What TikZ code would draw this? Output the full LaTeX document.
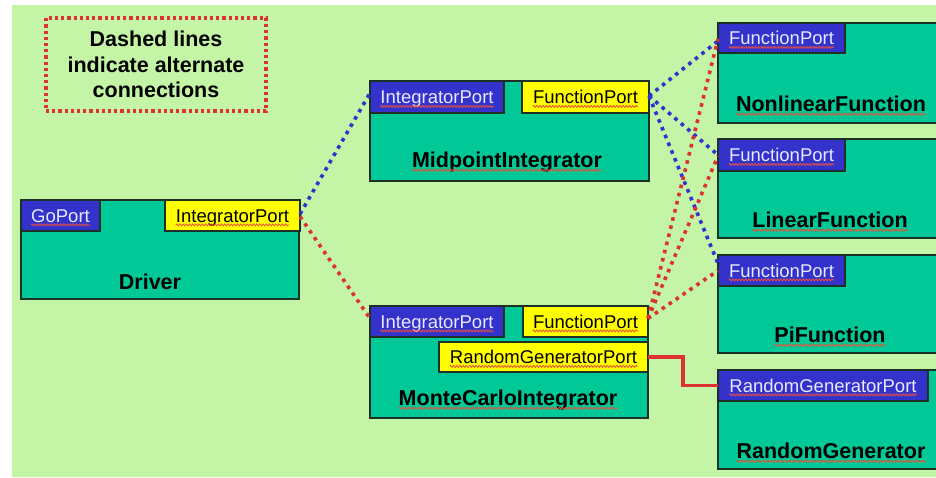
\documentclass[tikz,border=0pt]{standalone}
\usepackage{fontspec}
\setmainfont{Liberation Sans}
\usetikzlibrary{decorations.pathmorphing}

\definecolor{bgcol}{RGB}{196,245,166}
\definecolor{compcol}{RGB}{0,200,150}
\definecolor{usescol}{RGB}{51,51,204}
\definecolor{providescol}{RGB}{255,255,0}
\definecolor{edgecol}{RGB}{28,48,38}
\definecolor{linkred}{RGB}{220,50,50}
\definecolor{linkblue}{RGB}{51,51,204}
\definecolor{usestext}{RGB}{232,232,255}
\definecolor{spellred}{RGB}{235,80,60}

\tikzset{
  comp/.style={draw=edgecol, line width=1.7pt, fill=compcol, anchor=north west,
               inner sep=0pt, outer sep=0pt},
  uport/.style={comp, fill=usescol},
  pport/.style={comp, fill=providescol},
  portlabel/.style={font=\fontsize{18.5}{22}\selectfont, inner sep=0pt, anchor=base},
  ulabel/.style={portlabel, text=usestext},
  plabel/.style={portlabel, text=black},
  comptitle/.style={font=\bfseries\fontsize{21.5}{25}\selectfont, inner sep=0pt, anchor=base},
  altblue/.style={draw=linkblue, line width=3.6pt, dash pattern=on 3.6pt off 4.8pt},
  altred/.style={altblue, draw=linkred},
  fixedlink/.style={draw=linkred, line width=3.8pt},
  notebox/.style={draw=linkred, line width=3.4pt, dash pattern=on 3.2pt off 3pt},
  spellmark/.style={draw=spellred, line width=0.8pt, decorate,
                    decoration={zigzag, amplitude=1pt, segment length=3.2pt}},
}

\begin{document}
\begin{tikzpicture}[x=1pt, y=-1pt]
\useasboundingbox (0,0) rectangle (936,477);
\begin{scope}
\clip (0,0) rectangle (936,477);
\fill[bgcol] (12,5) rectangle (936,477);

% legend
\node[notebox, minimum width=220pt, minimum height=93pt, inner sep=0pt, align=center,
      font=\bfseries\fontsize{21.5}{25.5}\selectfont] (note) at (156,64.5)
      {Dashed lines\\indicate alternate\\connections};

% Driver
\node[comp, minimum width=278pt, minimum height=99pt] (driver) at (21,200) {};
\node[uport, minimum width=79pt, minimum height=31pt] (drvgo) at (21,200) {};
\node[pport, minimum width=135pt, minimum height=31pt] (drvint) at (165,200) {};

% MidpointIntegrator
\node[comp, minimum width=279pt, minimum height=100pt] (mid) at (370,81) {};
\node[uport, minimum width=134pt, minimum height=32pt] (midint) at (370,81) {};
\node[pport, minimum width=127pt, minimum height=32pt] (midfun) at (522,81) {};

% MonteCarloIntegrator
\node[comp, minimum width=278pt, minimum height=112pt] (mc) at (370,306) {};
\node[uport, minimum width=134pt, minimum height=31pt] (mcint) at (370,306) {};
\node[pport, minimum width=125pt, minimum height=31pt] (mcfun) at (523,306) {};
\node[pport, minimum width=209pt, minimum height=30pt] (mcrand) at (439,342) {};

% function and generator components
\node[comp, minimum width=227pt, minimum height=100pt] (nonlin) at (718,23) {};
\node[uport, minimum width=127pt, minimum height=30pt] (nonlinfun) at (718,23) {};
\node[comp, minimum width=227pt, minimum height=99pt] (lin) at (718,139) {};
\node[uport, minimum width=127pt, minimum height=32pt] (linfun) at (718,139) {};
\node[comp, minimum width=227pt, minimum height=98pt] (pi) at (718,255) {};
\node[uport, minimum width=127pt, minimum height=31pt] (pifun) at (718,255) {};
\node[comp, minimum width=227pt, minimum height=99pt] (rng) at (718,370) {};
\node[uport, minimum width=210pt, minimum height=31pt] (rngport) at (718,370) {};

% port labels
\node[ulabel] (l-drvgo) at ([yshift=-6.6pt]drvgo.center) {GoPort};
\node[plabel] (l-drvint) at ([yshift=-6.6pt]drvint.center) {IntegratorPort};
\node[ulabel] (l-midint) at ([yshift=-6.6pt]midint.center) {IntegratorPort};
\node[plabel] (l-midfun) at ([yshift=-6.6pt]midfun.center) {FunctionPort};
\node[ulabel] (l-mcint) at ([yshift=-6.6pt]mcint.center) {IntegratorPort};
\node[plabel] (l-mcfun) at ([yshift=-6.6pt]mcfun.center) {FunctionPort};
\node[plabel] (l-mcrand) at ([yshift=-6.6pt]mcrand.center) {RandomGeneratorPort};
\node[ulabel] (l-nonlinfun) at ([yshift=-6.6pt]nonlinfun.center) {FunctionPort};
\node[ulabel] (l-linfun) at ([yshift=-6.6pt]linfun.center) {FunctionPort};
\node[ulabel] (l-pifun) at ([yshift=-6.6pt]pifun.center) {FunctionPort};
\node[ulabel] (l-rngport) at ([yshift=-6.6pt]rngport.center) {RandomGeneratorPort};

% component names
\node[comptitle] (t-driver) at (150,289) {Driver};
\node[comptitle] (t-mid) at (507,167) {MidpointIntegrator};
\node[comptitle] (t-mc) at (508,405) {MonteCarloIntegrator};
\node[comptitle] (t-nonlin) at (831,111) {NonlinearFunction};
\node[comptitle] (t-lin) at (830,227) {LinearFunction};
\node[comptitle] (t-pi) at (830,342) {PiFunction};
\node[comptitle] (t-rng) at (831,458) {RandomGenerator};

% wavy underlines
\foreach \n in {l-drvgo, l-drvint, l-midint, l-midfun, l-mcint, l-mcfun, l-mcrand,
                l-nonlinfun, l-linfun, l-pifun, l-rngport}
  \draw[spellmark] ([yshift=-2.8pt]\n.base west) -- ([yshift=-2.8pt]\n.base east);
\foreach \n in {t-mid, t-mc, t-nonlin, t-lin, t-pi, t-rng}
  \draw[spellmark] ([yshift=-3.2pt]\n.base west) -- ([yshift=-3.2pt]\n.base east);

% connections
\draw[altblue] ([yshift=1.5pt]drvint.east) -- ([yshift=4pt]midint.west);
\draw[altred] ([yshift=-1pt]drvint.east) -- ([yshift=3pt]mcint.west);
\draw[altblue] ([yshift=1pt]midfun.east) -- ([yshift=-3pt]nonlinfun.west);
\draw[altblue] ([yshift=1pt]midfun.east) -- ([yshift=0pt]linfun.west);
\draw[altblue] ([yshift=1pt]midfun.east) -- ([yshift=7pt]pifun.west);
\draw[altred] ([yshift=3pt]mcfun.east) -- ([yshift=-1pt]nonlinfun.west);
\draw[altred] ([yshift=3pt]mcfun.east) -- ([yshift=-1pt]linfun.west);
\draw[altred] ([yshift=3pt]mcfun.east) -- ([yshift=0pt]pifun.west);
\draw[fixedlink] (mcrand.east) -- ++(35,0) |- (rngport.west);
\end{scope}
\end{tikzpicture}
\end{document}
